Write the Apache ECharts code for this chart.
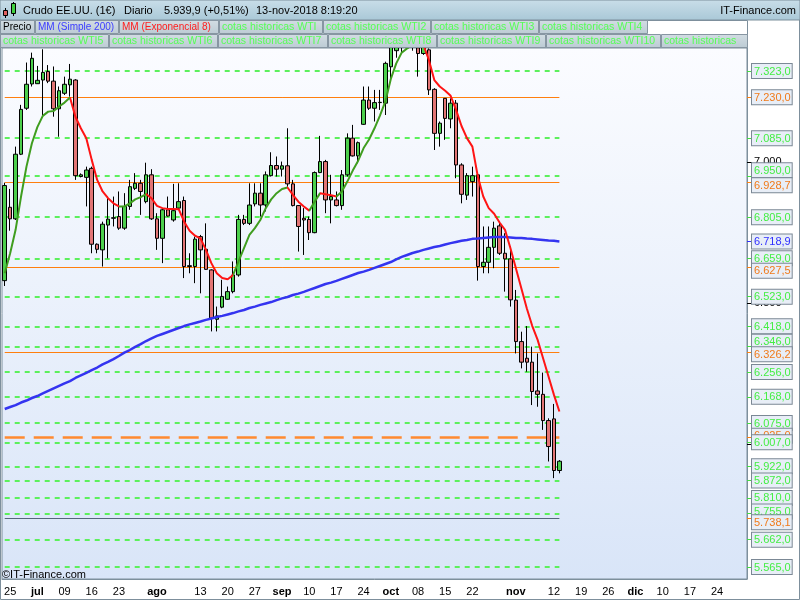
<!DOCTYPE html>
<html><head><meta charset="utf-8">
<script src="https://cdn.jsdelivr.net/npm/echarts@6/dist/echarts.min.js"></script>
<style>html,body{margin:0;padding:0;background:#fff}#c{width:800px;height:600px}</style>
</head><body><div id="c"></div>
<script>
// ---------- DATA ----------
const opens  = [6580,6840,6799,7028,7191,7277,7278,7291,7321,7287,7189,7244,7274,7291,6949,6946,6978,6709,6689,6777,6801,6807,6766,6843,6907,6925,6860,6955,6799,6730,6831,6795,6837,6864,6630,6630,6736,6691,6618,6443,6486,6514,6541,6600,6797,6783,6852,6890,6848,6952,6988,6975,6987,6923,6846,6801,6797,6750,6963,7002,6866,6866,6846,6955,7085,7022,7134,7220,7191,7211,7209,7338,7395,7430,7405,7425,7405,7385,7398,7258,7102,7226,7153,7209,6990,6883,6931,6955,6630,6645,6698,6774,6677,6657,6511,6364,6305,6291,6189,6177,6084,6090,5907];
const closes = [6917,6799,7028,7187,7276,7368,7290,7318,7287,7189,7253,7276,7294,6952,6955,6972,6709,6691,6780,6798,6803,6766,6843,6913,6925,6896,6955,6799,6730,6831,6809,6828,6860,6630,6633,6727,6689,6620,6447,6455,6524,6541,6600,6797,6783,6848,6890,6848,6955,6988,6975,6987,6923,6846,6772,6795,6750,6963,7002,6866,6878,6846,6955,7085,7022,7069,7220,7191,7211,7212,7350,7407,7430,7410,7425,7410,7385,7420,7256,7102,7138,7155,7209,6990,6886,6952,6952,6630,6645,6698,6766,6677,6657,6512,6364,6291,6291,6187,6177,6084,5992,5907,5939.9];
const lows   = [6561,6757,6795,7025,7185,7268,7277,7161,7280,7161,7090,7238,7232,6937,6946,6843,6677,6677,6630,6659,6772,6760,6760,6831,6901,6813,6854,6795,6689,6642,6807,6789,6831,6589,6606,6571,6535,6618,6400,6400,6482,6512,6535,6594,6777,6777,6843,6807,6825,6949,6949,6949,6913,6843,6683,6671,6724,6748,6961,6819,6783,6843,6831,6949,7020,6996,7132,7185,7144,7185,7167,7291,7370,7390,7398,7395,7303,7380,7238,7043,7055,7079,7120,6943,6854,6866,6878,6580,6606,6606,6624,6671,6541,6488,6322,6269,6257,6139,6133,6051,5939,5880,5897];
const highs  = [6927,6905,7055,7203,7353,7388,7341,7400,7344,7339,7268,7303,7348,7294,6960,6984,6984,6712,6789,6878,6878,6896,6890,6937,6961,6937,6998,6975,6819,6837,6878,6923,6925,6878,6677,6736,6742,6783,6620,6488,6583,6559,6648,6813,6813,6925,6925,6925,6967,7035,7020,7002,7120,6937,6848,6837,6807,6967,7093,7008,6955,6896,6972,7102,7132,7073,7268,7268,7256,7256,7356,7440,7470,7460,7455,7450,7440,7460,7403,7262,7144,7226,7226,7220,6996,6961,6984,6961,6772,6772,6789,6789,6748,6701,6547,6399,6419,6346,6322,6254,6092,6143,5944];
const ema8   = [6606,6677,6760,6878,6984,7067,7124,7164,7179,7181,7197,7211,7229,7161,7120,7085,7008,6937,6896,6872,6854,6843,6843,6854,6868,6876,6887,6872,6845,6837,6834,6834,6833,6789,6757,6739,6730,6689,6642,6606,6589,6585,6600,6648,6695,6742,6766,6795,6837,6868,6890,6905,6910,6884,6860,6843,6828,6860,6890,6886,6883,6878,6896,6931,6970,7005,7050,7080,7120,7165,7215,7295,7350,7388,7403,7415,7421,7415,7362,7291,7268,7253,7235,7185,7128,7085,7055,6949,6878,6837,6817,6786,6760,6695,6624,6553,6482,6420,6370,6305,6240,6175,6116];
const sma200 = [6125,6132,6139,6148,6155,6164,6171,6180,6189,6198,6207,6216,6224,6235,6244,6253,6263,6272,6283,6292,6302,6313,6325,6334,6345,6355,6366,6375,6384,6391,6398,6405,6412,6419,6425,6430,6435,6441,6446,6451,6455,6460,6465,6471,6476,6483,6488,6494,6499,6504,6511,6517,6522,6529,6534,6540,6547,6554,6561,6568,6573,6579,6586,6593,6600,6607,6612,6618,6625,6632,6639,6646,6655,6664,6671,6678,6683,6689,6694,6699,6703,6708,6713,6717,6721,6724,6728,6729,6731,6733,6735,6735,6735,6733,6731,6731,6729,6728,6726,6724,6722,6721,6718.9];
const greenLevels  = [7323,7085,6950,6805,6659,6523,6418,6346,6256,6168,6075,6007,5922,5872,5810,5755,5662,5565];
const orangeLevels = [7230,6928.7,6627.5,6326.2];
const orangeDashedLevels = [6025];
const grayLevels   = [5738.1];
const blueLevels   = [6718.9];
const priceTicks   = [7000,6500,6000];
const tickDates  = ['2018-06-25','2018-07-02','2018-07-09','2018-07-16','2018-07-23','2018-08-01','2018-08-13','2018-08-20','2018-08-27','2018-09-03','2018-09-10','2018-09-17','2018-09-24','2018-10-01','2018-10-08','2018-10-15','2018-10-22','2018-11-01','2018-11-12','2018-11-19','2018-11-26','2018-12-03','2018-12-10','2018-12-17','2018-12-24'];
const tickLabels = ['25','jul','09','16','23','ago','13','20','27','sep','10','17','24','oct','08','15','22','nov','12','19','26','dic','10','17','24'];
const monthNames = ['jul','ago','sep','oct','nov','dic'];

// trading-day categories (weekdays) 22-jun-2018 .. 31-dec-2018
const dates = [];
for (let d = new Date(Date.UTC(2018,5,22)); d <= new Date(Date.UTC(2018,11,31)); d.setUTCDate(d.getUTCDate()+1)) {
  const w = d.getUTCDay(); if (w > 0 && w < 6) dates.push(d.toISOString().slice(0,10));
}

// ---------- LAYOUT / STYLE ----------
const FONT = '"Liberation Sans", Arial, sans-serif';
const GREEN_T = '#44ee44', ORANGE_T = '#f07a1a', BLUE_T = '#2f2fff';
const YMIN = 5522.5, YMAX = 7404.5, PLOT_H = 531;
const UNITS_PER_PX = (YMAX - YMIN) / PLOT_H;
// label de-collision offsets in pixels (positive = down), as in the reference
const labelShiftPx = { 6950: -6, 6928.7: 3, 6627.5: 3.5, 6346: -5, 6326.2: 2, 6025: -1.5, 5755: -2, 5738.1: 4 };

function fmt(v, dec) {
  const s = v.toFixed(dec); let [a, b] = s.split('.');
  a = a.replace(/\B(?=(\d{3})+(?!\d))/g, '.');
  return b !== undefined ? a + ',' + b : a;
}
const labelMap = {}; tickDates.forEach((d, i) => labelMap[d] = tickLabels[i]);
const tickSet = new Set(tickDates);
const candleData = opens.map((o, i) => [o, closes[i], lows[i], highs[i]]);
const last = dates[opens.length - 1];

function kindOf(v) {
  if (priceTicks.includes(v)) return 'k';
  if (blueLevels.includes(v)) return 'b';
  if (greenLevels.includes(v)) return 'g';
  return 'o';
}
const levelList = [...greenLevels, ...orangeLevels, ...orangeDashedLevels, ...grayLevels, ...blueLevels].sort((a, b) => b - a);
const labelEntries = [...priceTicks, ...levelList].map(v => ({ v, pos: v - (labelShiftPx[v] || 0) * UNITS_PER_PX }));
const posToLevel = new Map(labelEntries.map(e => [e.pos, e.v]));

function lvl(v, style) { return [{ coord: [dates[0], v], lineStyle: style }, { coord: [last, v] }]; }
const markData = [
  ...greenLevels.map(v => lvl(v, { color: '#5cf05c', type: [5, 5], width: 2 })),
  ...orangeLevels.map(v => lvl(v, { color: '#ff7f0e', type: 'solid', width: 1 })),
  ...orangeDashedLevels.map(v => lvl(v, { color: '#ff8a30', type: [20, 9], width: 2.5 })),
  ...grayLevels.map(v => lvl(v, { color: '#55657a', type: 'solid', width: 1 }))
];
const boxStyle = (c) => ({ color: c, backgroundColor: '#e8eef7', borderColor: '#7b8895', borderWidth: 1, padding: [2, 1, 1, 2], fontSize: 11, lineHeight: 11, fontFamily: FONT });
function tickAxis(values, color) {
  return { type: 'value', position: 'right', min: YMIN, max: YMAX, splitLine: { show: false }, axisLine: { show: false }, axisLabel: { show: false },
    axisTick: { show: true, length: 5, customValues: values, lineStyle: { color: color } } };
}

// ---------- HEADER / LEGEND GRAPHICS ----------
const G = '#55ff55';
const row1 = [['Precio',0,35,'#000',10],['MM (Simple 200)',35,119,'#3c3cff',10],['MM (Exponencial 8)',119,219,'#ff1c1c',10],['cotas historicas WTI',219,323,G,10.5],['cotas historicas WTI2',323,431,G,10.5],['cotas historicas WTI3',431,539,G,10.5],['cotas historicas WTI4',539,648,G,10.5]];
const row2 = [['cotas historicas WTI5',0,109,G,10.5],['cotas historicas WTI6',109,218,G,10.5],['cotas historicas WTI7',218,328,G,10.5],['cotas historicas WTI8',328,437,G,10.5],['cotas historicas WTI9',437,546,G,10.5],['cotas historicas WTI10',546,661,G,10.5],['cotas historicas WTI11',661,748,G,10.5]];
const graphics = [];
graphics.push({ type: 'rect', z: 100, shape: { x: 0, y: 0, width: 800, height: 20 }, style: { fill: new echarts.graphic.LinearGradient(0,0,0,1,[{offset:0,color:'#c9dee9'},{offset:1,color:'#a9c8d7'}]), stroke: '#7d8f9c', lineWidth: 1 } });
graphics.push({ type: 'rect', z: 100, shape: { x: 0.5, y: 20.5, width: 747, height: 27 }, style: { fill: '#ffffff', stroke: '#7d8f9c', lineWidth: 1 } });
function addRow(row, y) {
  row.forEach(([t, x0, x1, c, fs]) => {
    graphics.push({ type: 'rect', z: 101, shape: { x: x0 + 0.5, y: y + 0.5, width: x1 - x0 - 1, height: 13 }, style: { fill: new echarts.graphic.LinearGradient(0,0,0,1,[{offset:0,color:'#d3dde3'},{offset:1,color:'#bccbd4'}]), stroke: '#8796a2', lineWidth: 1 } });
    graphics.push({ type: 'text', z: 102, x: x0 + 3, y: y + 7.5, style: { text: t, fill: c, font: fs + 'px ' + FONT, verticalAlign: 'middle', width: x1 - x0 - 3, overflow: 'truncate', ellipsis: '' } });
  });
}
addRow(row1, 20); addRow(row2, 34);
// candle icon
graphics.push({ type: 'line', z: 101, shape: { x1: 5.5, y1: 8, x2: 5.5, y2: 18 }, style: { stroke: '#000', lineWidth: 1 } });
graphics.push({ type: 'rect', z: 102, shape: { x: 3.5, y: 10.5, width: 4, height: 5 }, style: { fill: '#e06060', stroke: '#000', lineWidth: 1 } });
graphics.push({ type: 'line', z: 101, shape: { x1: 13.5, y1: 2, x2: 13.5, y2: 16 }, style: { stroke: '#000', lineWidth: 1 } });
graphics.push({ type: 'rect', z: 102, shape: { x: 11.5, y: 3.5, width: 4, height: 10 }, style: { fill: '#40d040', stroke: '#000', lineWidth: 1 } });
[['Crudo EE.UU. (1€)', 23], ['Diario', 124], ['5.939,9 (+0,51%)', 164], ['13-nov-2018 8:19:20', 256]].forEach(([t, x]) => {
  graphics.push({ type: 'text', z: 102, x: x, y: 11, style: { text: t, fill: '#000', font: '11px ' + FONT, verticalAlign: 'middle' } });
});
graphics.push({ type: 'text', z: 102, x: 796, y: 11, style: { text: 'IT-Finance.com', fill: '#000', font: '11px ' + FONT, verticalAlign: 'middle', align: 'right' } });
graphics.push({ type: 'text', z: 102, x: 2, y: 575, style: { text: '©IT-Finance.com', fill: '#000', font: '11px ' + FONT, verticalAlign: 'middle' } });
graphics.push({ type: 'rect', z: 99, silent: true, shape: { x: 0.5, y: 0.5, width: 799, height: 599 }, style: { fill: 'none', stroke: '#7d8f9c', lineWidth: 1 } });

// ---------- CHART ----------
const chart = echarts.init(document.getElementById('c'), null, { renderer: 'canvas' });
chart.setOption({
  animation: false,
  backgroundColor: '#ffffff',
  textStyle: { fontFamily: FONT },
  grid: { left: 2, top: 48, width: 745, height: PLOT_H, show: true, borderColor: '#7d8f9c', borderWidth: 1,
    backgroundColor: new echarts.graphic.LinearGradient(0,0,0,1,[{offset:0,color:'#fbfcff'},{offset:1,color:'#d9e5f8'}]) },
  xAxis: {
    type: 'category', data: dates, boundaryGap: true,
    axisLine: { lineStyle: { color: '#7d8f9c' } },
    axisTick: { alignWithLabel: true, length: 4, interval: (i, v) => tickSet.has(v), lineStyle: { color: '#555' } },
    axisLabel: { interval: (i, v) => tickSet.has(v), color: '#000', fontSize: 11, margin: 7,
      formatter: v => { const l = labelMap[v] || ''; return monthNames.includes(l) ? '{b|' + l + '}' : l; },
      rich: { b: { fontWeight: 'bold', fontSize: 11, color: '#000' } } },
    splitLine: { show: false }
  },
  yAxis: [
    { type: 'value', position: 'right', min: YMIN, max: YMAX, splitLine: { show: false },
      axisLine: { show: true, lineStyle: { color: '#7d8f9c' } },
      axisTick: { show: true, length: 5, customValues: priceTicks, lineStyle: { color: '#000' } },
      axisLabel: { customValues: labelEntries.map(e => e.pos), margin: 5, hideOverlap: false,
        formatter: p => { const v = posToLevel.has(p) ? posToLevel.get(p) : p; const k = kindOf(v); return k === 'k' ? '{k|' + fmt(v, 0) + '}' : '{' + k + '|' + fmt(v, 1) + '}'; },
        rich: { k: { color: '#000', fontSize: 11, padding: [0, 0, 0, 2] }, g: boxStyle(GREEN_T), o: boxStyle(ORANGE_T), b: boxStyle(BLUE_T) } } },
    tickAxis(greenLevels, '#44dd44'),
    tickAxis([...orangeLevels, ...orangeDashedLevels, ...grayLevels], '#ff7f0e'),
    tickAxis(blueLevels, '#3030ff')
  ],
  visualMap: {
    show: false, type: 'piecewise', seriesIndex: 2, dimension: 0,
    pieces: [
      { lte: 12, color: '#3f9d1f' }, { gt: 12, lte: 21, color: '#ff1414' }, { gt: 21, lte: 26, color: '#3f9d1f' },
      { gt: 26, lte: 42, color: '#ff1414' }, { gt: 42, lte: 52, color: '#3f9d1f' }, { gt: 52, lte: 56, color: '#ff1414' },
      { gt: 56, lte: 58, color: '#3f9d1f' }, { gt: 58, lte: 61, color: '#ff1414' }, { gt: 61, lte: 77, color: '#3f9d1f' },
      { gt: 77, color: '#ff1414' }
    ]
  },
  series: [
    { type: 'candlestick', name: 'Precio', data: candleData, barWidth: 4, clip: true, z: 3,
      itemStyle: { color: '#4ccf4c', color0: '#e27575', borderColor: '#000', borderColor0: '#000', borderWidth: 1 },
      markLine: { silent: true, symbol: ['none', 'none'], label: { show: false }, animation: false, z: 2, data: markData } },
    { type: 'line', name: 'MM (Simple 200)', data: sma200, showSymbol: false, symbol: 'none', z: 4, clip: true,
      lineStyle: { color: '#3434f0', width: 2.5 } },
    { type: 'line', name: 'MM (Exponencial 8)', data: ema8, showSymbol: false, symbol: 'none', z: 5, clip: true,
      lineStyle: { width: 2 } }
  ],
  graphic: graphics
});
</script></body></html>
